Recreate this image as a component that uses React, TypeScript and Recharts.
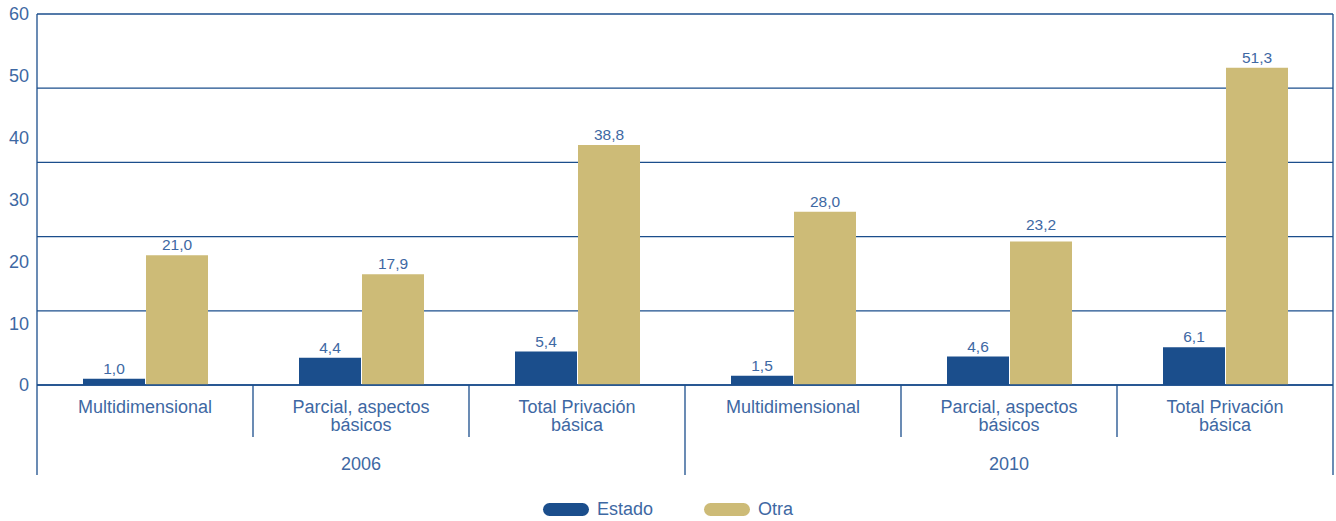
import React from 'react';
import { BarChart, Bar, XAxis, YAxis, CartesianGrid, Legend, LabelList } from 'recharts';

const categories = [
  ['Multidimensional'],
  ['Parcial, aspectos', 'básicos'],
  ['Total Privación', 'básica'],
  ['Multidimensional'],
  ['Parcial, aspectos', 'básicos'],
  ['Total Privación', 'básica'],
];
const years = ['2006', '2010'];
const estado = [1.0, 4.4, 5.4, 1.5, 4.6, 6.1];
const otra = [21.0, 17.9, 38.8, 28.0, 23.2, 51.3];
const Y_MAX = 60;
const yTicks = [0, 10, 20, 30, 40, 50, 60];
// the source draws its grid in five even steps, not at the labelled ticks
const gridTicks = [0, 12, 24, 36, 48, 60];

const data = categories.map((lines, i) => ({
  cat: lines.join(' ') + ' ' + years[Math.floor(i / 3)],
  lines,
  estado: estado[i],
  otra: otra[i],
}));

const W = 1336;
const H = 521;
const TOP = 14;
const LEFT_W = 37;
const RIGHT_W = 3;
const X_AXIS_H = 112;
const LEGEND_H = 24;
const PLOT_H = H - TOP - X_AXIS_H - LEGEND_H;
const BAND = (W - LEFT_W - RIGHT_W) / categories.length;
const gridYs = gridTicks.map((t) => TOP + PLOT_H * (1 - t / Y_MAX));

const BLUE = '#1b4e8c';
const GOLD = '#cdbb77';
const TEXT = '#3e68a3';
const FONT = '"Liberation Sans", Arial, Helvetica, sans-serif';

const fmt = (v: any) => Number(v).toFixed(1).replace('.', ',');

const gridLines = (args: any) => {
  const { offset } = args;
  return gridTicks.map((t) => offset.top + offset.height * (1 - t / Y_MAX));
};

// value above the bar; lifted clear of a grid line if it would sit on one
const ValueLabel = (props: any) => {
  const { x, y, width, value } = props;
  let base = y - 5;
  gridYs.forEach((g) => {
    if (g > base - 12 && g < base + 2) base = g - 7;
  });
  return (
    <text x={x + width / 2} y={base} textAnchor="middle" fill={TEXT} fontSize={15.5} fontFamily={FONT}>
      {fmt(value)}
    </text>
  );
};

const CategoryTick = (props: any) => {
  const { x, y, payload } = props;
  const i = payload.index;
  const d = data[i];
  const half = BAND / 2;
  const groupStart = i % 3 === 0;
  return (
    <g>
      {d.lines.map((t: string, k: number) => (
        <text key={k} x={x} y={y + 28 + k * 18} textAnchor="middle" fill={TEXT} fontSize={18} fontFamily={FONT}>
          {t}
        </text>
      ))}
      {i % 3 === 1 && (
        <text x={x} y={y + 85} textAnchor="middle" fill={TEXT} fontSize={18} fontFamily={FONT}>
          {years[Math.floor(i / 3)]}
        </text>
      )}
      <line x1={x - half} x2={x - half} y1={y} y2={y + (groupStart ? 90 : 52)} stroke={BLUE} strokeWidth={1.3} />
      {i === categories.length - 1 && (
        <line x1={x + half} x2={x + half} y1={y} y2={y + 90} stroke={BLUE} strokeWidth={1.3} />
      )}
    </g>
  );
};

const LegendContent = () => (
  <div style={{ display: 'flex', justifyContent: 'center', alignItems: 'center', height: LEGEND_H, fontFamily: FONT, fontSize: 18, color: TEXT }}>
    {[['Estado', BLUE], ['Otra', GOLD]].map(([name, color], k) => (
      <div key={name} style={{ display: 'flex', alignItems: 'center', marginLeft: k ? 51 : 0 }}>
        <span style={{ display: 'inline-block', width: 46, height: 13, borderRadius: 7, background: color, marginRight: 8 }} />
        <span>{name}</span>
      </div>
    ))}
  </div>
);

export default function App() {
  return (
    <div style={{ position: 'absolute', left: 0, top: 0, width: W, height: H, background: '#fff' }}>
      <BarChart
        width={W}
        height={H}
        data={data}
        margin={{ top: TOP, right: 0, bottom: 0, left: 0 }}
        barGap={1}
        barCategoryGap={46}
        style={{ fontFamily: FONT }}
      >
        <CartesianGrid
          yAxisId="left"
          vertical={false}
          stroke={BLUE}
          strokeWidth={1.3}
          horizontalCoordinatesGenerator={gridLines}
        />
        <XAxis
          dataKey="cat"
          height={X_AXIS_H}
          interval={0}
          tickSize={0}
          tickMargin={0}
          tickLine={false}
          axisLine={{ stroke: BLUE, strokeWidth: 1.3 }}
          tick={<CategoryTick />}
        />
        <YAxis
          yAxisId="left"
          width={LEFT_W}
          domain={[0, Y_MAX]}
          ticks={yTicks}
          interval={0}
          tickLine={false}
          axisLine={{ stroke: BLUE, strokeWidth: 1.3 }}
          tick={{ fill: TEXT, fontSize: 18, fontFamily: FONT }}
        />
        <YAxis
          yAxisId="right"
          orientation="right"
          width={RIGHT_W}
          domain={[0, Y_MAX]}
          tick={false}
          tickLine={false}
          axisLine={{ stroke: BLUE, strokeWidth: 1.3 }}
        />
        <Legend verticalAlign="bottom" content={<LegendContent />} />
        <Bar yAxisId="left" dataKey="estado" name="Estado" fill={BLUE} isAnimationActive={false}>
          <LabelList dataKey="estado" content={<ValueLabel />} />
        </Bar>
        <Bar yAxisId="left" dataKey="otra" name="Otra" fill={GOLD} isAnimationActive={false}>
          <LabelList dataKey="otra" content={<ValueLabel />} />
        </Bar>
      </BarChart>
    </div>
  );
}
